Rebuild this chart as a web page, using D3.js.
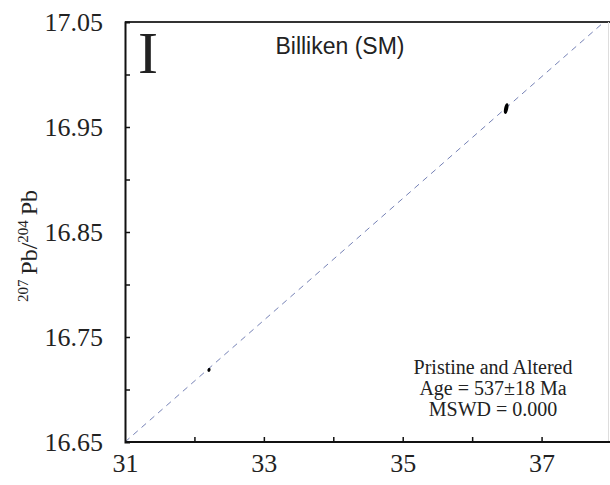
<!DOCTYPE html>
<html>
<head>
<meta charset="utf-8">
<script src="https://cdn.jsdelivr.net/npm/d3@7"></script>
<style>
  html, body { margin: 0; padding: 0; background: #fff; }
  svg { display: block; }
</style>
</head>
<body>
<svg id="chart" width="610" height="485"></svg>
<script>
// Axis extents and tick values
const xDomain = [31, 38];
const yDomain = [16.65, 17.05];
const xMajorTicks = [31, 33, 35, 37];
const xMinorTicks = [32, 34, 36];
const yMajorTicks = [16.65, 16.75, 16.85, 16.95, 17.05];
const yMinorTicks = [16.70, 16.80, 16.90, 17.00];

// Measured 206Pb/204Pb and 207Pb/204Pb with 2-sigma errors
const sampleX = [32.21, 36.49];
const sampleY = [16.7186, 16.9676];
const errX = [0.022, 0.029];
const errY = [0.0019, 0.0052];
const errTilt = [20, 12];

// Isochron reference line endpoints
const isoX = [31, 37.9];
const isoY = [16.65, 17.05];

// Annotation text
const panelLabel = "I";
const sampleName = "Billiken (SM)";
const resultLines = ["Pristine and Altered", "Age = 537\u00B118 Ma", "MSWD = 0.000"];

const svg = d3.select("#chart");
const W = 610, H = 485;
const m = { left: 125, top: 22, bottom: 442 };

const x = d3.scaleLinear().domain(xDomain).range([m.left, 611]);
const y = d3.scaleLinear().domain(yDomain).range([m.bottom, m.top]);

const serif = "'Liberation Serif', 'Times New Roman', serif";
const sans = "'Liberation Sans', Arial, sans-serif";

svg.append("rect").attr("width", W).attr("height", H).attr("fill", "#fff");

// Clip region for marks
svg.append("clipPath").attr("id", "plot")
  .append("rect").attr("x", m.left).attr("y", m.top)
  .attr("width", 608 - m.left).attr("height", m.bottom - m.top);

// Isochron
svg.append("line")
  .attr("clip-path", "url(#plot)")
  .attr("x1", x(isoX[0])).attr("y1", y(isoY[0]))
  .attr("x2", x(isoX[1])).attr("y2", y(isoY[1]))
  .attr("stroke", "#7682b6").attr("stroke-width", 1)
  .attr("stroke-dasharray", "6,5");

// Error ellipses
svg.append("g").selectAll("ellipse")
  .data(sampleX.map((v, i) => i))
  .join("ellipse")
  .attr("cx", i => x(sampleX[i]))
  .attr("cy", i => y(sampleY[i]))
  .attr("rx", i => x(sampleX[i] + errX[i]) - x(sampleX[i]))
  .attr("ry", i => y(sampleY[i]) - y(sampleY[i] + errY[i]))
  .attr("transform", i => `rotate(${errTilt[i]},${x(sampleX[i])},${y(sampleY[i])})`)
  .attr("fill", "#000");

// Frame: top and right
svg.append("line").attr("x1", m.left).attr("x2", W).attr("y1", m.top).attr("y2", m.top)
  .attr("stroke", "#333").attr("stroke-width", 2);
svg.append("line").attr("x1", 608.5).attr("x2", 608.5).attr("y1", m.top).attr("y2", m.bottom)
  .attr("stroke", "#ddd").attr("stroke-width", 1);

// Left axis
const yAxis = d3.axisLeft(y).tickValues(yMajorTicks).tickFormat(d3.format(".2f"))
  .tickSize(-5).tickPadding(22);
const gy = svg.append("g").attr("transform", `translate(${m.left},0)`).call(yAxis);
gy.selectAll(".tick").filter(d => d === 16.65 || d === 17.05).select("line").remove();
gy.selectAll(".tick text").attr("font-family", serif).attr("font-size", 26).attr("fill", "#222");
gy.select(".domain").attr("stroke", "#111").attr("stroke-width", 2);
gy.selectAll(".tick line").attr("stroke", "#111").attr("stroke-width", 1.5);
svg.append("g").attr("transform", `translate(${m.left},0)`)
  .call(d3.axisLeft(y).tickValues(yMinorTicks).tickSize(-5).tickFormat(""))
  .call(g => g.select(".domain").remove())
  .selectAll(".tick line").attr("stroke", "#111").attr("stroke-width", 1.5);

// Bottom axis
const xAxis = d3.axisBottom(x).tickValues(xMajorTicks).tickFormat(d3.format("d"))
  .tickSize(-5).tickPadding(12);
const gx = svg.append("g").attr("transform", `translate(0,${m.bottom})`).call(xAxis);
gx.selectAll(".tick").filter(d => d === 31).select("line").remove();
gx.selectAll(".tick text").attr("font-family", serif).attr("font-size", 26).attr("fill", "#222");
gx.select(".domain").attr("stroke", "#111").attr("stroke-width", 2).attr("d", `M${m.left},0H${W}`);
gx.selectAll(".tick line").attr("stroke", "#111").attr("stroke-width", 1.5);
svg.append("g").attr("transform", `translate(0,${m.bottom})`)
  .call(d3.axisBottom(x).tickValues(xMinorTicks).tickSize(-5).tickFormat(""))
  .call(g => g.select(".domain").remove())
  .selectAll(".tick line").attr("stroke", "#111").attr("stroke-width", 1.5);

// Y axis title: 207Pb/204Pb
const yt = svg.append("text")
  .attr("transform", "translate(37,246) rotate(-90)")
  .attr("text-anchor", "middle")
  .attr("font-family", serif).attr("font-size", 24).attr("fill", "#222");
yt.append("tspan").attr("font-size", 15).attr("dy", -9).text("207");
yt.append("tspan").attr("dy", 9).text("\u2009Pb/");
yt.append("tspan").attr("font-size", 15).attr("dy", -9).text("204");
yt.append("tspan").attr("dy", 9).text("\u2009Pb");

// Panel letter and sample name
svg.append("text").attr("x", 138).attr("y", 73)
  .attr("font-family", serif).attr("font-size", 60).attr("fill", "#222").text(panelLabel);
svg.append("text").attr("x", 340).attr("y", 54).attr("text-anchor", "middle")
  .attr("font-family", sans).attr("font-size", 23).attr("fill", "#222").text(sampleName);

// Isochron result
svg.append("g").selectAll("text").data(resultLines).join("text")
  .attr("x", 493).attr("y", (d, i) => 374 + i * 21)
  .attr("text-anchor", "middle")
  .attr("font-family", serif).attr("font-size", 20).attr("fill", "#222")
  .text(d => d);
</script>
</body>
</html>
